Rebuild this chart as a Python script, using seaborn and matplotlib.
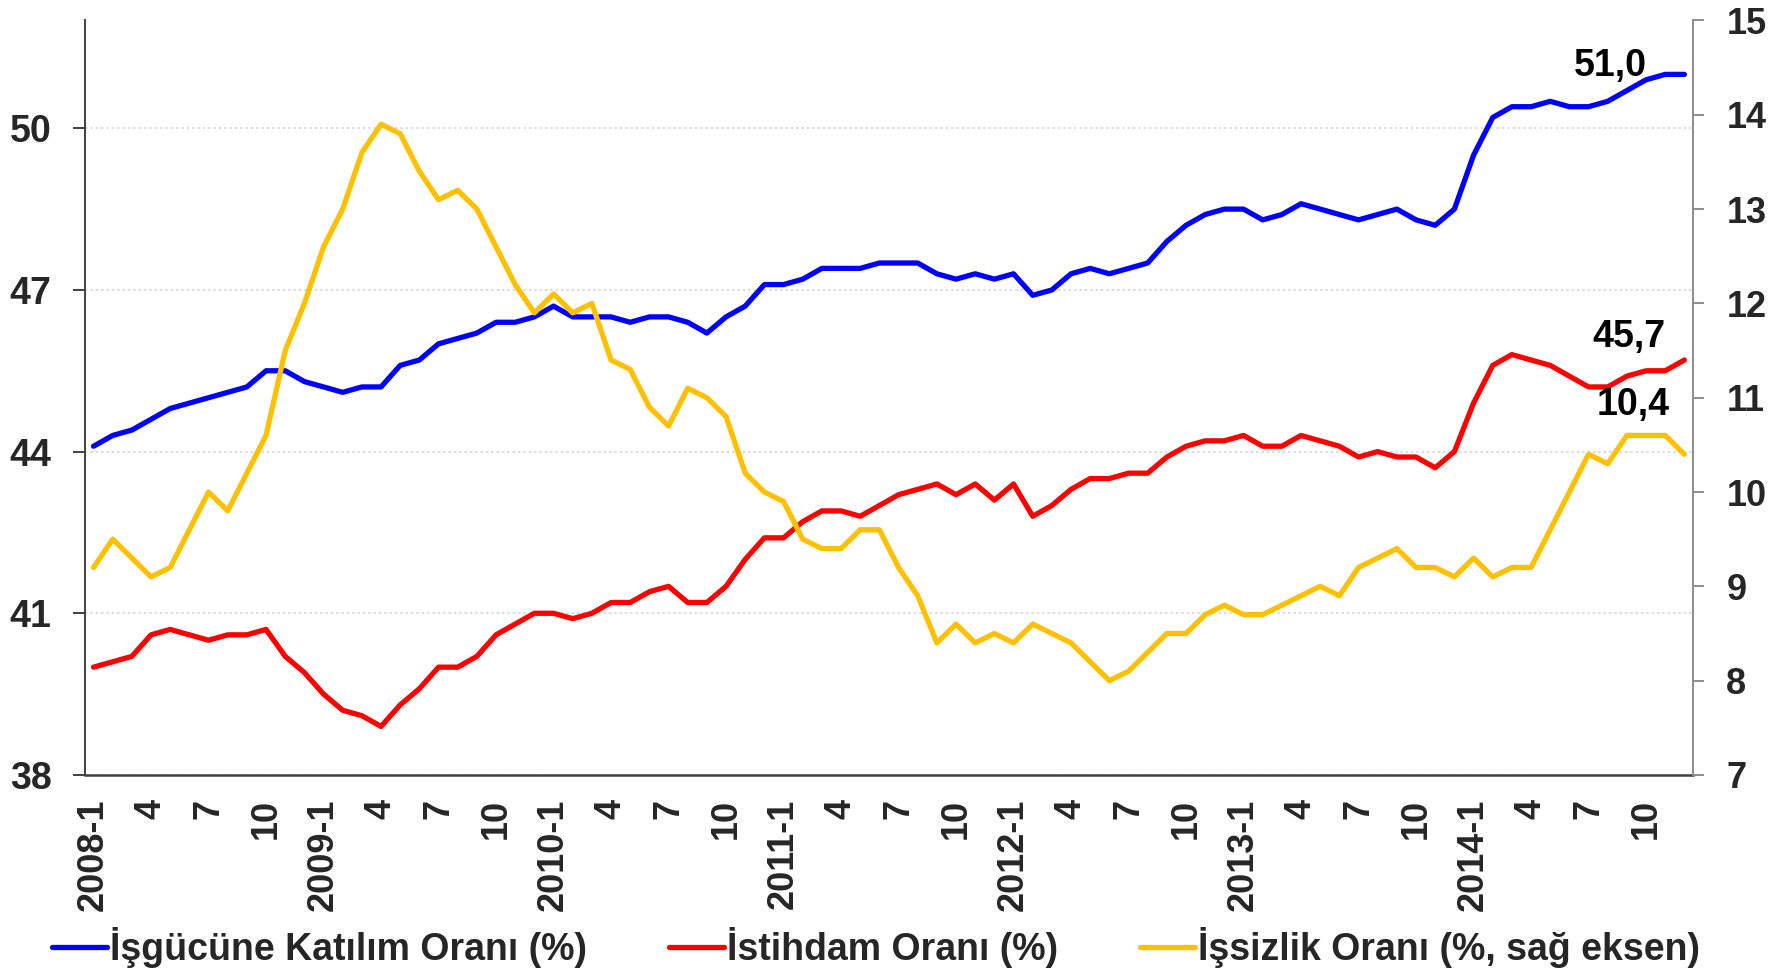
import matplotlib
matplotlib.use("Agg")
import matplotlib.pyplot as plt
import seaborn as sns
import numpy as np
from matplotlib.lines import Line2D

# ---- data ----
years = [2008, 2009, 2010, 2011, 2012, 2013, 2014]
months = list(range(1, 13))

katilim = [44.1, 44.3, 44.4, 44.6, 44.8, 44.9, 45.0, 45.1, 45.2, 45.5, 45.5, 45.3,
           45.2, 45.1, 45.2, 45.2, 45.6, 45.7, 46.0, 46.1, 46.2, 46.4, 46.4, 46.5,
           46.7, 46.5, 46.5, 46.5, 46.4, 46.5, 46.5, 46.4, 46.2, 46.5, 46.7, 47.1,
           47.1, 47.2, 47.4, 47.4, 47.4, 47.5, 47.5, 47.5, 47.3, 47.2, 47.3, 47.2,
           47.3, 46.9, 47.0, 47.3, 47.4, 47.3, 47.4, 47.5, 47.9, 48.2, 48.4, 48.5,
           48.5, 48.3, 48.4, 48.6, 48.5, 48.4, 48.3, 48.4, 48.5, 48.3, 48.2, 48.5,
           49.5, 50.2, 50.4, 50.4, 50.5, 50.4, 50.4, 50.5, 50.7, 50.9, 51.0, 51.0]

istihdam = [40.0, 40.1, 40.2, 40.6, 40.7, 40.6, 40.5, 40.6, 40.6, 40.7, 40.2, 39.9,
            39.5, 39.2, 39.1, 38.9, 39.3, 39.6, 40.0, 40.0, 40.2, 40.6, 40.8, 41.0,
            41.0, 40.9, 41.0, 41.2, 41.2, 41.4, 41.5, 41.2, 41.2, 41.5, 42.0, 42.4,
            42.4, 42.7, 42.9, 42.9, 42.8, 43.0, 43.2, 43.3, 43.4, 43.2, 43.4, 43.1,
            43.4, 42.8, 43.0, 43.3, 43.5, 43.5, 43.6, 43.6, 43.9, 44.1, 44.2, 44.2,
            44.3, 44.1, 44.1, 44.3, 44.2, 44.1, 43.9, 44.0, 43.9, 43.9, 43.7, 44.0,
            44.9, 45.6, 45.8, 45.7, 45.6, 45.4, 45.2, 45.2, 45.4, 45.5, 45.5, 45.7]

issizlik = [9.2, 9.5, 9.3, 9.1, 9.2, 9.6, 10.0, 9.8, 10.2, 10.6, 11.5, 12.0,
            12.6, 13.0, 13.6, 13.9, 13.8, 13.4, 13.1, 13.2, 13.0, 12.6, 12.2, 11.9,
            12.1, 11.9, 12.0, 11.4, 11.3, 10.9, 10.7, 11.1, 11.0, 10.8, 10.2, 10.0,
            9.9, 9.5, 9.4, 9.4, 9.6, 9.6, 9.2, 8.9, 8.4, 8.6, 8.4, 8.5,
            8.4, 8.6, 8.5, 8.4, 8.2, 8.0, 8.1, 8.3, 8.5, 8.5, 8.7, 8.8,
            8.7, 8.7, 8.8, 8.9, 9.0, 8.9, 9.2, 9.3, 9.4, 9.2, 9.2, 9.1,
            9.3, 9.1, 9.2, 9.2, 9.6, 10.0, 10.4, 10.3, 10.6, 10.6, 10.6, 10.4]

series_names = ["İşgücüne Katılım Oranı (%)", "İstihdam Oranı (%)",
                "İşsizlik Oranı (%, sağ eksen)"]
last_labels = ["51,0", "45,7", "10,4"]
left_ticks = [38, 41, 44, 47, 50]
right_ticks = [7, 8, 9, 10, 11, 12, 13, 14, 15]

# category labels: "2008-1", then month numbers every 3 months
categories = []
for y in years:
    for m in months:
        categories.append(f"{y}-{m}" if m == 1 else str(m))
idx = np.arange(len(categories))

# ---- style ----
sns.set_theme(style="white")
plt.rcParams["font.family"] = ["Liberation Sans", "DejaVu Sans"]
plt.rcParams["font.weight"] = "bold"

c_blue, c_red, c_yel = "#0000FF", "#FF0000", "#FFC000"
lw = 3.8
FS = 27

fig = plt.figure(figsize=(17.84, 9.76), dpi=100)
ax = fig.add_axes([0.0476, 0.206, 0.9014, 0.773])
ax2 = ax.twinx()

sns.lineplot(x=idx, y=katilim, ax=ax, color=c_blue, lw=lw, legend=False)
sns.lineplot(x=idx, y=istihdam, ax=ax, color=c_red, lw=lw, legend=False)
sns.lineplot(x=idx, y=issizlik, ax=ax2, color=c_yel, lw=lw, legend=False)

ax.set_xlim(-0.45, len(idx) - 0.55)
ax.set_ylim(38, 52)
ax2.set_ylim(7, 15)
ax.set_yticks(left_ticks)
ax2.set_yticks(right_ticks)

xt = idx[::3]
ax.set_xticks(xt)
ax.set_xticklabels([categories[i] for i in xt], rotation=90, fontsize=26,
                   fontweight="bold")
ax.tick_params(axis="x", length=0, pad=17)
ax.tick_params(axis="y", direction="out", length=9, width=1.4, color="#404040",
               labelsize=FS, pad=15, left=True)
ax2.tick_params(axis="y", direction="out", length=8, width=1.4, color="#8c8c8c",
                labelsize=26, pad=16, right=True)
for lab in ax.get_yticklabels() + ax2.get_yticklabels():
    lab.set_fontweight("bold")

ax.yaxis.grid(True, linestyle=(0, (1.5, 2)), color="#cfcfcf", lw=1.1)
ax.set_axisbelow(True)
for a in (ax, ax2):
    a.spines["top"].set_visible(False)
    a.set_xlabel("")
    a.set_ylabel("")
ax.spines["left"].set_color("#404040")
ax.spines["bottom"].set_color("#404040")
ax.spines["left"].set_linewidth(1.4)
ax.spines["bottom"].set_linewidth(1.8)
ax2.spines["left"].set_visible(False)
ax2.spines["bottom"].set_visible(False)
ax2.spines["right"].set_color("#8c8c8c")
ax2.spines["right"].set_linewidth(1.4)
ax.spines["right"].set_visible(False)

# end labels
last = idx[-1]
ax.annotate(last_labels[0], xy=(last, katilim[-1]), xycoords="data",
            xytext=(-74, 8), textcoords="offset pixels", ha="center", va="center",
            fontsize=FS, fontweight="bold", color="black")
ax.annotate(last_labels[1], xy=(last, istihdam[-1]), xycoords="data",
            xytext=(-55, 23), textcoords="offset pixels", ha="center", va="center",
            fontsize=FS, fontweight="bold", color="black")
ax2.annotate(last_labels[2], xy=(last, issizlik[-1]), xycoords="data",
             xytext=(-51, 49), textcoords="offset pixels", ha="center", va="center",
             fontsize=FS, fontweight="bold", color="black")

handles = [Line2D([], [], color=c, lw=lw) for c in (c_blue, c_red, c_yel)]
fig.legend(handles, series_names, loc="center", bbox_to_anchor=(0.491, 0.029),
           ncol=3, frameon=False, handlelength=1.45,
           handletextpad=0.08, columnspacing=2.2, borderaxespad=0,
           prop={"weight": "bold", "size": FS})

fig.savefig("out.png", dpi=100)
